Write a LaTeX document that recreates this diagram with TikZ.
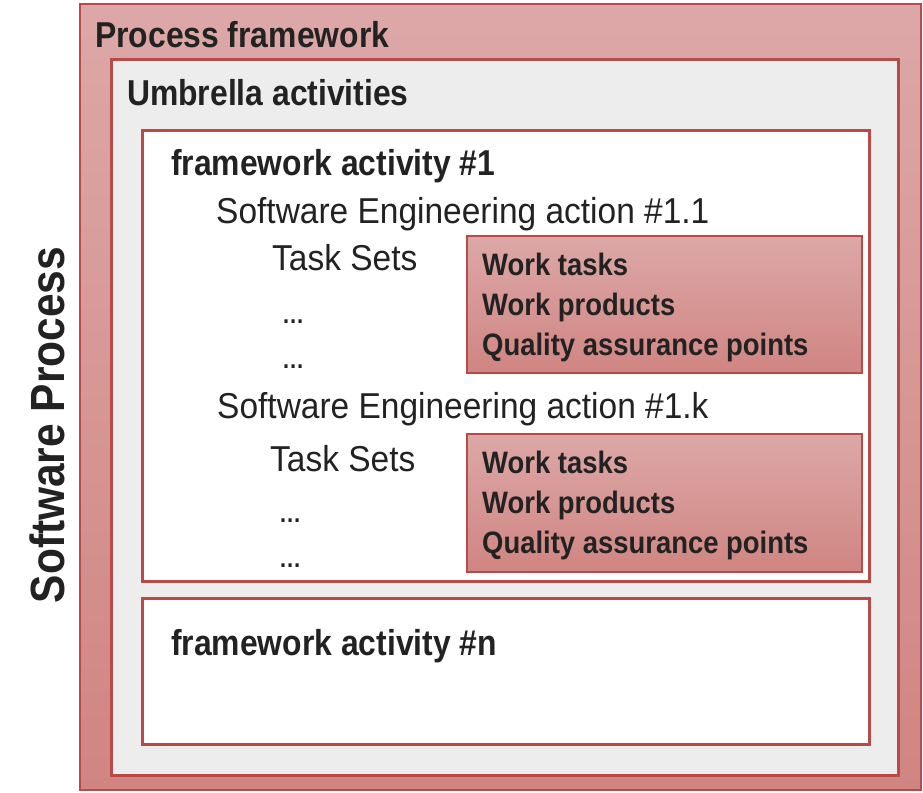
\documentclass[tikz,border=0pt]{standalone}
\usepackage{fontspec}
\newfontfamily\headfont{Liberation Sans Bold}[FakeStretch=0.885]
\newfontfamily\bodyfont{Liberation Sans}[FakeStretch=0.93]
\definecolor{boxred}{RGB}{185,74,72}
\definecolor{pinktop}{RGB}{220,168,167}
\definecolor{pinkbot}{RGB}{208,133,130}
\definecolor{umbgray}{RGB}{237,237,237}
\definecolor{ink}{RGB}{34,34,34}

\begin{document}
\begin{tikzpicture}[
    x = 1pt, y = -1pt,
    redline/.style = {draw=boxred, line width=3pt},
    pinkbox/.style = {draw=boxred, line width=1.5pt, top color=pinktop, bottom color=pinkbot},
    head/.style = {anchor=base west, inner sep=0pt, text=ink, font=\headfont\fontsize{36}{40}\selectfont},
    body/.style = {anchor=base west, inner sep=0pt, text=ink, font=\bodyfont\fontsize{36}{40}\selectfont},
    item/.style = {anchor=base west, inner sep=0pt, text=ink, font=\headfont\fontsize{31}{34}\selectfont},
    dots/.style = {anchor=base west, inner sep=0pt, text=ink, font=\headfont\fontsize{25}{28}\selectfont}]

\useasboundingbox (0,0) rectangle (923,792);

% The frames
\draw[pinkbox] (80, 4) rectangle (921, 790);
\draw[redline, fill=umbgray] (111.5, 59.5) rectangle (898.5, 775.5);
\draw[redline, fill=white] (142, 130) rectangle (869, 581);
\draw[redline, fill=white] (142, 598) rectangle (869, 744);

\draw[pinkbox] (467, 236) rectangle (862, 373);
\draw[pinkbox] (467, 434) rectangle (862, 572);

% Labels
\node[anchor=base, inner sep=0pt, text=ink, rotate=90, font=\headfont\fontsize{48}{52}\selectfont] (sp) at (64, 425) {Software Process};

\node[head] (pf) at (95, 48) {Process framework};
\node[head] (ua) at (127, 105) {Umbrella activities};
\node[head] (fa1) at (171, 175) {framework activity \#1};
\node[head] (fan) at (171, 655) {framework activity \#n};

\node[body] (sea1) at (216, 223) {Software Engineering action \#1.1};
\node[body] (ts1) at (272, 270) {Task Sets};
\node[dots] (d1a) at (282, 323) {…};
\node[dots] (d1b) at (282, 368) {…};

\node[body] (seak) at (217, 418) {Software Engineering action \#1.k};
\node[body] (tsk) at (270, 471) {Task Sets};
\node[dots] (dka) at (279, 522) {…};
\node[dots] (dkb) at (279, 567) {…};

\node[item] (wt1) at (482, 275) {Work tasks};
\node[item] (wp1) at (482, 315) {Work products};
\node[item] (qa1) at (482, 355) {Quality assurance points};

\node[item] (wtk) at (482, 473) {Work tasks};
\node[item] (wpk) at (482, 513) {Work products};
\node[item] (qak) at (482, 553) {Quality assurance points};

\end{tikzpicture}
\end{document}
